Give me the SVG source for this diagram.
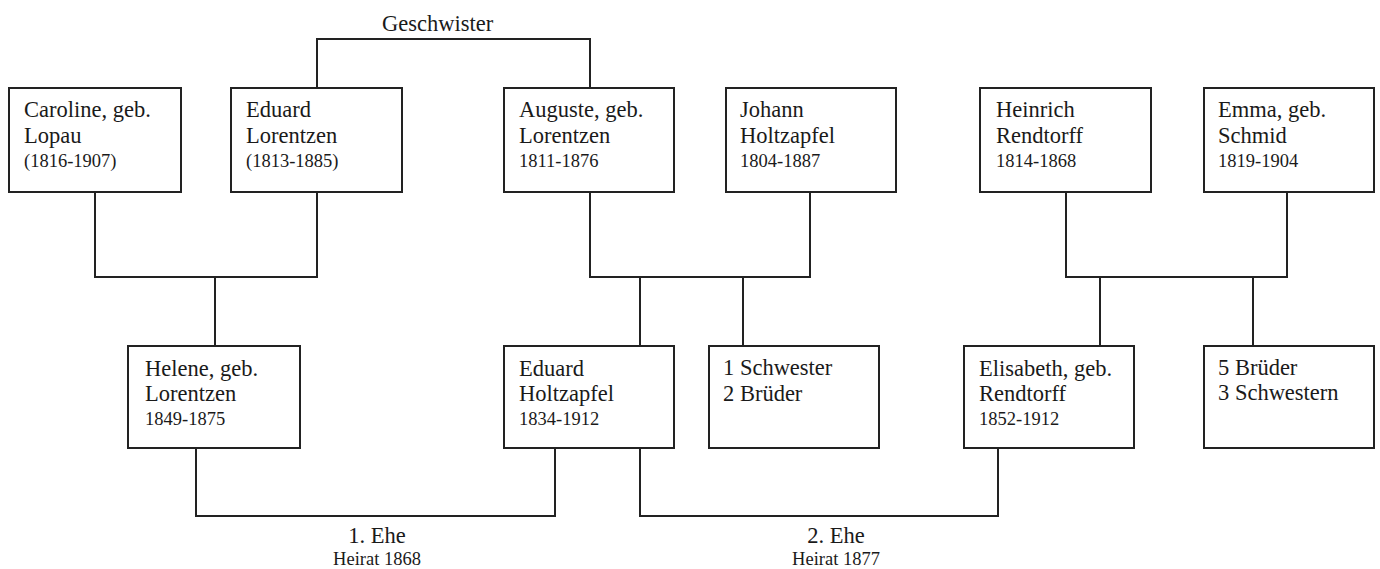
<svg xmlns="http://www.w3.org/2000/svg" width="1380" height="569" viewBox="0 0 1380 569">
<style>
.box{fill:#fff;stroke:#222;stroke-width:2}
.conn{fill:none;stroke:#222;stroke-width:2}
text{font-family:"Liberation Serif","Times New Roman",serif;fill:#1a1a1a}
.n{font-size:22.5px}
.y{font-size:18.5px}
.c{text-anchor:middle}
</style>
<rect width="1380" height="569" fill="#fff"/>
<g id="connectors">
<path class="conn" d="M317,88 V39 H590 V88"/>
<path class="conn" d="M95,192 V277 H317 V192 M215,277 V346"/>
<path class="conn" d="M590,192 V277 H810 V192 M640,277 V346 M743,277 V346"/>
<path class="conn" d="M1066,192 V277 H1287 V192 M1100,277 V346 M1253,277 V346"/>
<path class="conn" d="M196,448 V516 H555 V448"/>
<path class="conn" d="M640,448 V516 H998 V448"/>
</g>
<g id="label-geschwister"><text class="n" x="382" y="31">Geschwister</text></g>
<g id="label-ehe1"><text class="n c" x="377" y="543">1. Ehe</text><text class="y c" x="377" y="565">Heirat 1868</text></g>
<g id="label-ehe2"><text class="n c" x="836" y="543">2. Ehe</text><text class="y c" x="836" y="565">Heirat 1877</text></g>
<g id="caroline"><rect class="box" x="9" y="88" width="172" height="104"/><text class="n" x="24" y="117">Caroline, geb.</text><text class="n" x="24" y="143">Lopau</text><text class="y" x="24" y="167">(1816-1907)</text></g>
<g id="eduard-lorentzen"><rect class="box" x="231" y="88" width="171" height="104"/><text class="n" x="246" y="117">Eduard</text><text class="n" x="246" y="143">Lorentzen</text><text class="y" x="246" y="167">(1813-1885)</text></g>
<g id="auguste"><rect class="box" x="504" y="88" width="170" height="104"/><text class="n" x="519" y="117">Auguste, geb.</text><text class="n" x="519" y="143">Lorentzen</text><text class="y" x="519" y="167">1811-1876</text></g>
<g id="johann"><rect class="box" x="726" y="88" width="170" height="104"/><text class="n" x="740" y="117">Johann</text><text class="n" x="740" y="143">Holtzapfel</text><text class="y" x="740" y="167">1804-1887</text></g>
<g id="heinrich"><rect class="box" x="980" y="88" width="171" height="104"/><text class="n" x="996" y="117">Heinrich</text><text class="n" x="996" y="143">Rendtorff</text><text class="y" x="996" y="167">1814-1868</text></g>
<g id="emma"><rect class="box" x="1204" y="88" width="170" height="104"/><text class="n" x="1218" y="117">Emma, geb.</text><text class="n" x="1218" y="143">Schmid</text><text class="y" x="1218" y="167">1819-1904</text></g>
<g id="helene"><rect class="box" x="128" y="346" width="172" height="102"/><text class="n" x="145" y="376">Helene, geb.</text><text class="n" x="145" y="401">Lorentzen</text><text class="y" x="145" y="425">1849-1875</text></g>
<g id="eduard-holtzapfel"><rect class="box" x="504" y="346" width="170" height="102"/><text class="n" x="519" y="376">Eduard</text><text class="n" x="519" y="401">Holtzapfel</text><text class="y" x="519" y="425">1834-1912</text></g>
<g id="geschwister-holtzapfel"><rect class="box" x="709" y="346" width="170" height="102"/><text class="n" x="723" y="375">1 Schwester</text><text class="n" x="723" y="401">2 Brüder</text></g>
<g id="elisabeth"><rect class="box" x="964" y="346" width="170" height="102"/><text class="n" x="979" y="376">Elisabeth, geb.</text><text class="n" x="979" y="401">Rendtorff</text><text class="y" x="979" y="425">1852-1912</text></g>
<g id="geschwister-rendtorff"><rect class="box" x="1204" y="346" width="170" height="102"/><text class="n" x="1218" y="375">5 Brüder</text><text class="n" x="1218" y="400">3 Schwestern</text></g>
</svg>
